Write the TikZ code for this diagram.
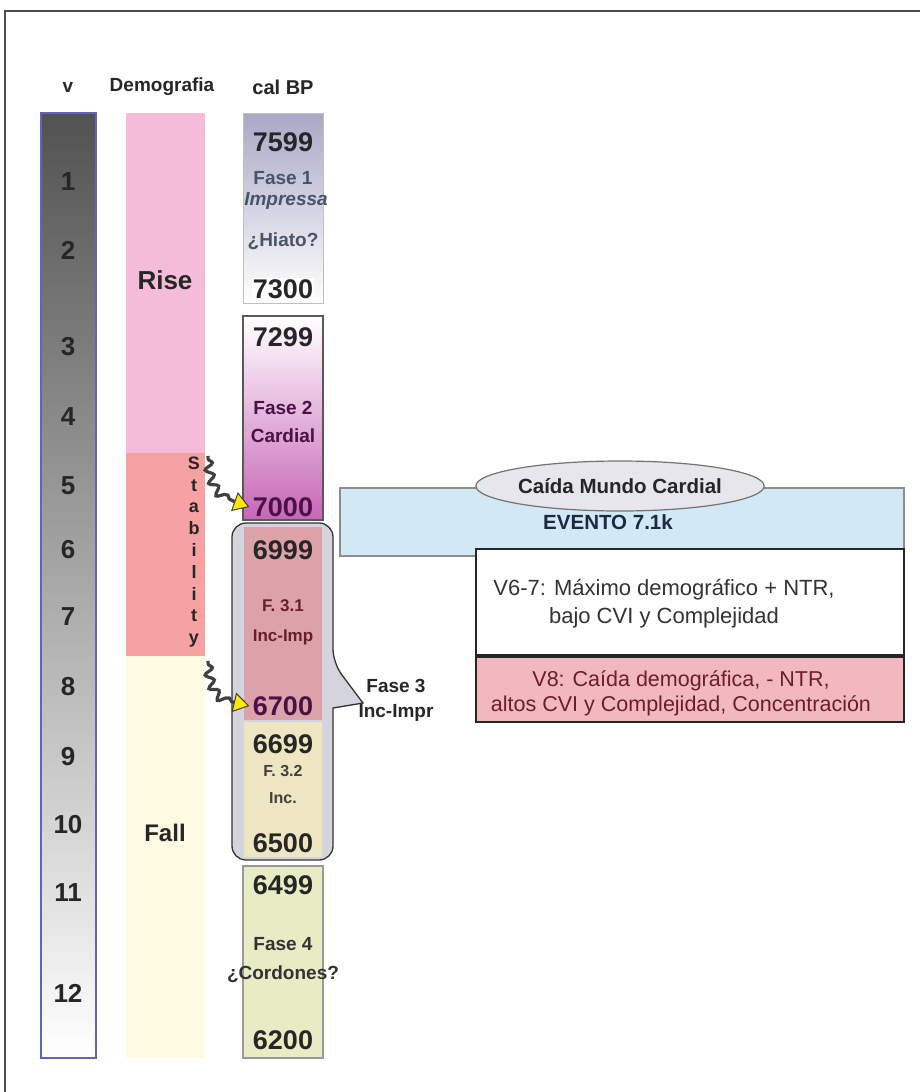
\documentclass[tikz,border=0pt]{standalone}
\usepackage{fontspec}
\setmainfont{Liberation Sans}
\usetikzlibrary{decorations.pathmorphing,arrows.meta,shapes.geometric}
\definecolor{vborder}{HTML}{6464B4}
\definecolor{risec}{HTML}{F4BCD8}
\definecolor{stabc}{HTML}{F6A2A2}
\definecolor{fallc}{HTML}{FEFBE2}
\definecolor{fasei}{HTML}{A8A8C6}
\definecolor{faseimid}{HTML}{C8C8E6}
\definecolor{cardmid}{HTML}{F2C6E2}
\definecolor{cardbot}{HTML}{C666B6}
\definecolor{calloutc}{HTML}{D4D4DC}
\definecolor{fthreeone}{HTML}{DCA2AA}
\definecolor{fthreetwo}{HTML}{EEE6C2}
\definecolor{fasefour}{HTML}{E8ECC4}
\definecolor{eventc}{HTML}{D2E8F4}
\definecolor{ellc}{HTML}{E6E6EC}
\definecolor{veightc}{HTML}{F2B8C0}
\definecolor{purpletext}{HTML}{4A1244}
\definecolor{redtext}{HTML}{6A1E2C}
\definecolor{navytext}{HTML}{1A2A44}
\tikzset{
  x=1pt, y=-1pt,
  colbox/.style={anchor=north west, inner sep=0pt, outer sep=0pt},
  head/.style={font=\bfseries\fontsize{19}{21}\selectfont, text=black!85},
  vnum/.style={font=\bfseries\fontsize{26}{28}\selectfont, text=black!85},
  bignum/.style={font=\bfseries\fontsize{27}{29}\selectfont, text=black!85},
  phase/.style={font=\bfseries\fontsize{19}{23}\selectfont, text=black!80},
  small/.style={font=\bfseries\fontsize{17}{20}\selectfont},
  plain/.style={font=\fontsize{22}{28}\selectfont, align=center},
  squiggle/.style={draw=black!75, line width=3.2pt, decorate,
    decoration={snake, amplitude=4pt, segment length=13pt, pre length=3pt, post length=16pt}},
  yellowtip/.style={-{Triangle[length=16pt, width=20pt, fill=yellow!90!orange, line width=1pt]}}
}
\begin{document}
\begin{tikzpicture}
\useasboundingbox (0,0) rectangle (920,1092);
% frame lines
\draw[black!70, line width=1.4pt] (920,11) -- (5,11) -- (5,1092);

% headers
\node[head] (hv) at (68,87) {v};
\node[head] (hd) at (162,87) {Demografia};
\node[head, font=\bfseries\fontsize{20}{22}\selectfont] (hc) at (283,87) {cal BP};

% v column
\node[colbox, draw=vborder, line width=2pt, minimum width=55pt, minimum height=945pt,
      top color=black!68, bottom color=white] (vcol) at (41,113) {};
\foreach \lab/\yy in {1/182,2/250,3/347,4/417,5/486,6/550,7/617,8/687,9/757,10/825,11/893,12/993}
  \node[vnum] (v\lab) at (68,\yy) {\lab};

% demography column
\node[colbox, fill=risec, minimum width=79pt, minimum height=340pt] (rise) at (126,113) {};
\node[colbox, fill=stabc, minimum width=79pt, minimum height=203pt] (stab) at (126,453) {};
\node[colbox, fill=fallc, minimum width=79pt, minimum height=402pt] (fall) at (126,656) {};
\node[font=\bfseries\fontsize{26}{28}\selectfont, text=black!85] (risel) at (165,280) {Rise};
\node[font=\bfseries\fontsize{24}{26}\selectfont, text=black!85] (falll) at (165,833) {Fall};
\node[font=\bfseries\fontsize{18}{21.8}\selectfont, text=black!85, align=center, inner sep=0pt]
  (stabl) at (194,552) {S\\t\\a\\b\\i\\l\\i\\t\\y};

% phase 1
\node[colbox, draw=black!25, line width=1pt, minimum width=80pt, minimum height=190pt,
      top color=fasei, middle color=faseimid, bottom color=white] (b1) at (243,113) {};
\node[bignum] (n7599) at (283,142) {7599};
\node[phase, text=navytext!80] (f1a) at (283,178) {Fase 1};
\node[phase, text=navytext!80, font=\bfseries\itshape\fontsize{19}{23}\selectfont] (f1b) at (286,201) {Impressa};
\node[phase, text=navytext!80] (hiato) at (283,241) {¿Hiato?};
\node[bignum, fill=white, inner sep=1pt] (n7300) at (283,289) {7300};

% phase 2
\node[colbox, draw=black!65, line width=1.2pt, minimum width=80pt, minimum height=204pt,
      top color=white, middle color=cardmid, bottom color=cardbot] (b2) at (243,316) {};
\node[bignum] (n7299) at (283,337) {7299};
\node[phase, text=purpletext, align=center, font=\bfseries\fontsize{19}{28}\selectfont] (f2) at (283,422) {Fase 2\\Cardial};
\node[bignum, text=purpletext] (n7000) at (283,507) {7000};

% phase 3 callout
\draw[fill=calloutc, draw=black!80, line width=1.3pt]
  [rounded corners=14pt] (282,523) -- (333,523) -- (333,663)
  [sharp corners] -- (363,703) -- (333,708)
  [rounded corners=14pt] -- (333,860) -- (232,860) -- (232,523) -- cycle;
\node[colbox, fill=fthreeone, minimum width=78pt, minimum height=193pt] (b31) at (244,527) {};
\node[colbox, fill=fthreetwo, minimum width=78pt, minimum height=135pt] (b32) at (244,722) {};
\node[bignum] (n6999) at (283,550) {6999};
\node[small, text=redtext, align=center, font=\bfseries\fontsize{17}{30}\selectfont] (f31) at (283,622) {F. 3.1\\Inc-Imp};
\node[bignum, text=purpletext] (n6700) at (283,706) {6700};
\node[bignum] (n6699) at (283,744) {6699};
\node[small, text=black!75, font=\bfseries\fontsize{16}{27}\selectfont, align=center] (f32) at (283,784) {F. 3.2\\Inc.};
\node[bignum] (n6500) at (283,843) {6500};
\node[phase, text=black!85, align=center, font=\bfseries\fontsize{19}{25}\selectfont] (f3) at (396,700) {Fase 3\\Inc-Impr};

% phase 4
\node[colbox, draw=black!40, line width=1.2pt, minimum width=80pt, minimum height=192pt,
      fill=fasefour] (b4) at (243,866) {};
\node[bignum] (n6499) at (283,885) {6499};
\node[phase, align=center, font=\bfseries\fontsize{19}{29}\selectfont] (f4) at (283,960) {Fase 4\\¿Cordones?};
\node[bignum] (n6200) at (283,1040) {6200};

% event and interpretation boxes
\node[colbox, draw=black!45, line width=1.2pt, fill=eventc, minimum width=564pt, minimum height=68pt] (evento) at (340,488) {};
\node[font=\bfseries\fontsize{20.5}{22}\selectfont, text=navytext] (eventol) at (608,522) {EVENTO 7.1k};
\node[colbox, draw=black!85, line width=1.4pt, fill=white, minimum width=428pt, minimum height=106pt] (v67) at (476,549) {};
\node[plain, text=black!80] (v67l) at (664,604) {V6-7: Máximo demográfico + NTR,\\bajo CVI y Complejidad};
\node[colbox, draw=black!85, line width=1.4pt, fill=veightc, minimum width=428pt, minimum height=65pt] (v8) at (476,657) {};
\node[plain, text=redtext, font=\fontsize{21.5}{25}\selectfont] (v8l) at (681,693) {V8: Caída demográfica, - NTR,\\altos CVI y Complejidad, Concentración};
\node[ellipse, draw=black!55, line width=1.2pt, fill=ellc, minimum width=262pt, minimum height=50pt, inner sep=0pt,
      font=\bfseries\fontsize{20.5}{22}\selectfont, text=black!85] (caida) at (620,486) {Caída Mundo Cardial};

% wavy arrows from the stability band to the phase limits
\coordinate (w1) at (208,456);
\coordinate (w2) at (208,661);
\draw[squiggle, yellowtip] (w1) .. controls (209,488) and (224,500) .. (n7000.west);
\draw[squiggle, yellowtip] (w2) .. controls (209,693) and (224,702) .. (n6700.west);
\end{tikzpicture}
\end{document}
